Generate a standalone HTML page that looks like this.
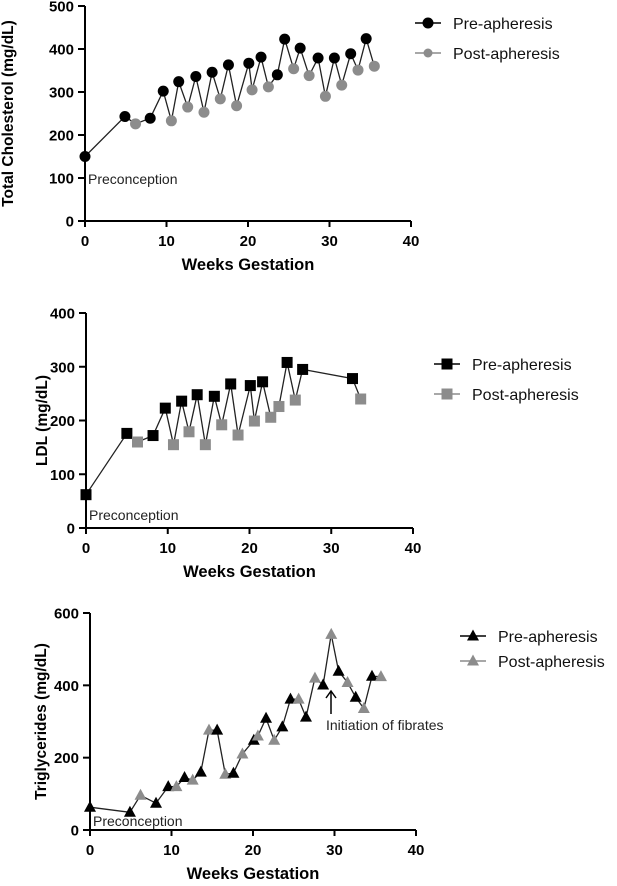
<!DOCTYPE html>
<html><head><meta charset="utf-8"><style>
body{margin:0;background:#fff;width:617px;height:886px;overflow:hidden}
svg{display:block;font-family:"Liberation Sans",Arial,sans-serif}
</style></head><body>
<svg id="s" width="617" height="886"></svg>
<script>
const tcWeeks=[0,4.9,6.2,8.0,9.6,10.6,11.5,12.6,13.6,14.6,15.6,16.6,17.6,18.6,20.1,20.5,21.6,22.5,23.6,24.5,25.6,26.4,27.5,28.6,29.5,30.6,31.5,32.6,33.5,34.5,35.5];
const tcValues=[150,243,226,239,302,233,324,265,336,253,346,284,363,268,367,305,381,312,340,423,354,402,338,379,290,379,316,389,351,424,360];
const tcPost=[0,0,1,0,0,1,0,1,0,1,0,1,0,1,0,1,0,1,0,0,1,0,1,0,1,0,1,0,1,0,1];
const ldlWeeks=[0,5.0,6.3,8.2,9.7,10.7,11.7,12.6,13.6,14.6,15.7,16.6,17.7,18.6,20.1,20.6,21.6,22.6,23.6,24.6,25.6,26.5,32.6,33.6];
const ldlValues=[62,176,160,172,223,155,236,179,248,155,245,192,268,173,265,199,272,206,226,308,238,295,278,240];
const ldlPost=[0,0,1,0,0,1,0,1,0,1,0,1,0,1,0,1,0,1,1,0,1,0,0,1];
const tgWeeks=[0,4.9,6.2,8.1,9.6,10.6,11.6,12.6,13.6,14.6,15.6,16.6,17.6,18.7,20.1,20.6,21.6,22.6,23.6,24.6,25.6,26.5,27.6,28.6,29.6,30.5,31.6,32.6,33.6,34.6,35.7];
const tgValues=[63,49,96,74,120,120,145,138,160,276,276,154,157,210,248,260,309,248,285,362,362,312,420,401,541,439,408,367,336,425,424];
const tgPost=[0,0,1,0,0,1,0,1,0,1,0,1,0,1,0,1,0,1,0,0,1,0,1,0,1,0,1,0,1,0,1];
const xTicks=[0,10,20,30,40];
const tcTicks=[0,100,200,300,400,500];
const ldlTicks=[0,100,200,300,400];
const tgTicks=[0,200,400,600];

const S=document.getElementById('s');const NS='http://www.w3.org/2000/svg';
function mk(t,a,p){const e=document.createElementNS(NS,t);for(const k in a)e.setAttribute(k,a[k]);(p||S).appendChild(e);return e;}
function txt(x,y,s,a,p){const e=mk('text',Object.assign({x:x,y:y},a),p);e.textContent=s;return e;}
function marker(g,shape,x,y,fill,r){
  let m;
  if(shape==='circle')m=mk('circle',{cx:x,cy:y,r:r||5.5,fill:fill},g);
  else if(shape==='square')m=mk('rect',{x:x-5.5,y:y-5.5,width:11,height:11,fill:fill},g);
  else m=mk('polygon',{points:`${x},${y-6.5} ${x-6},${y+4.5} ${x+6},${y+4.5}`,fill:fill},g);
  return m;
}
function chart(cfg){
  const g=mk('g',{});
  
  
  const xs=v=>cfg.x0+(v/40)*(cfg.x1-cfg.x0);
  const ys=v=>cfg.y0-(v/cfg.ymax)*(cfg.y0-cfg.y1);
  const ax=mk('g',{stroke:'#000','stroke-width':2},g);
  
  
  mk('line',{x1:cfg.x0,y1:cfg.y0,x2:cfg.x1,y2:cfg.y0},ax);
  mk('line',{x1:cfg.x0,y1:cfg.y0+1,x2:cfg.x0,y2:cfg.y1},ax);
  xTicks.forEach(t=>{mk('line',{x1:xs(t),y1:cfg.y0,x2:xs(t),y2:cfg.y0+6},ax);
    const l=txt(xs(t),cfg.y0+25,String(t),{'font-size':15,'font-weight':'bold','text-anchor':'middle'},g);
    
    });
  cfg.yTicks.forEach(t=>{mk('line',{x1:cfg.x0-7,y1:ys(t),x2:cfg.x0,y2:ys(t)},ax);
    const l=txt(cfg.x0-11,ys(t)+5.5,String(t),{'font-size':15,'font-weight':'bold','text-anchor':'end'},g);
    
    });
  const xt=txt((cfg.x0+cfg.x1)/2,cfg.y0+49,'Weeks Gestation',{'font-size':16.5,'font-weight':'bold','text-anchor':'middle'},g);
  
  
  const yt=txt(0,0,cfg.ytitle,{'font-size':15.5,'font-weight':'bold','text-anchor':'middle',transform:`translate(${cfg.ytx},${(cfg.y0+cfg.y1)/2}) rotate(-90)`},g);
  
  
  const pts=cfg.w.map((w,i)=>xs(w).toFixed(1)+','+ys(cfg.v[i]).toFixed(1)).join(' ');
  const ln=mk('polyline',{points:pts,fill:'none',stroke:'#222','stroke-width':1.3},g);
  
  
  cfg.w.forEach((w,i)=>{const m=marker(g,cfg.shape,xs(w),ys(cfg.v[i]),cfg.post[i]?'#8c8c8c':'#000');
    
    });
  const pc=txt(cfg.x0+3,cfg.pcy,'Preconception',{'font-size':14,fill:'#222'},g);
  
  
  [['Pre-apheresis','#000',0],['Post-apheresis','#8c8c8c',cfg.lgap]].forEach(([n,c,dy])=>{
    const lg=mk('g',{},g);
    
    
    const y=cfg.ly+dy;
    mk('line',{x1:cfg.lx,y1:y,x2:cfg.lx+26,y2:y,stroke:c,'stroke-width':1.5},lg);
    marker(lg,cfg.shape,cfg.lx+13,y,c,dy?4.5:5.5);
    txt(cfg.lx+38,y+6,n,{'font-size':16,fill:'#111'},lg);
  });
  return {xs,ys,g};
}
chart({name:'total-cholesterol-chart',x0:85,x1:411,y0:221,y1:6,ymax:500,yTicks:tcTicks,ytitle:'Total Cholesterol (mg/dL)',ytx:13,w:tcWeeks,v:tcValues,post:tcPost,shape:'circle',pcy:184,lx:415,ly:23,lgap:30});
chart({name:'ldl-chart',x0:86,x1:413,y0:528,y1:313,ymax:400,yTicks:ldlTicks,ytitle:'LDL (mg/dL)',ytx:47,w:ldlWeeks,v:ldlValues,post:ldlPost,shape:'square',pcy:520,lx:434,ly:364,lgap:30});
const c3=chart({name:'triglycerides-chart',x0:90,x1:416,y0:830,y1:613,ymax:600,yTicks:tgTicks,ytitle:'Triglycerides (mg/dL)',ytx:46,w:tgWeeks,v:tgValues,post:tgPost,shape:'triangle',pcy:826,lx:460,ly:636,lgap:25});
const an=mk('g',{});


mk('line',{x1:331,y1:714,x2:331,y2:692,stroke:'#000','stroke-width':1.5},an);
mk('polyline',{points:'326,698 331,691 336,698',fill:'none',stroke:'#000','stroke-width':1.5},an);
txt(326,730,'Initiation of fibrates',{'font-size':14,fill:'#222'},an);
</script>
</body></html>
